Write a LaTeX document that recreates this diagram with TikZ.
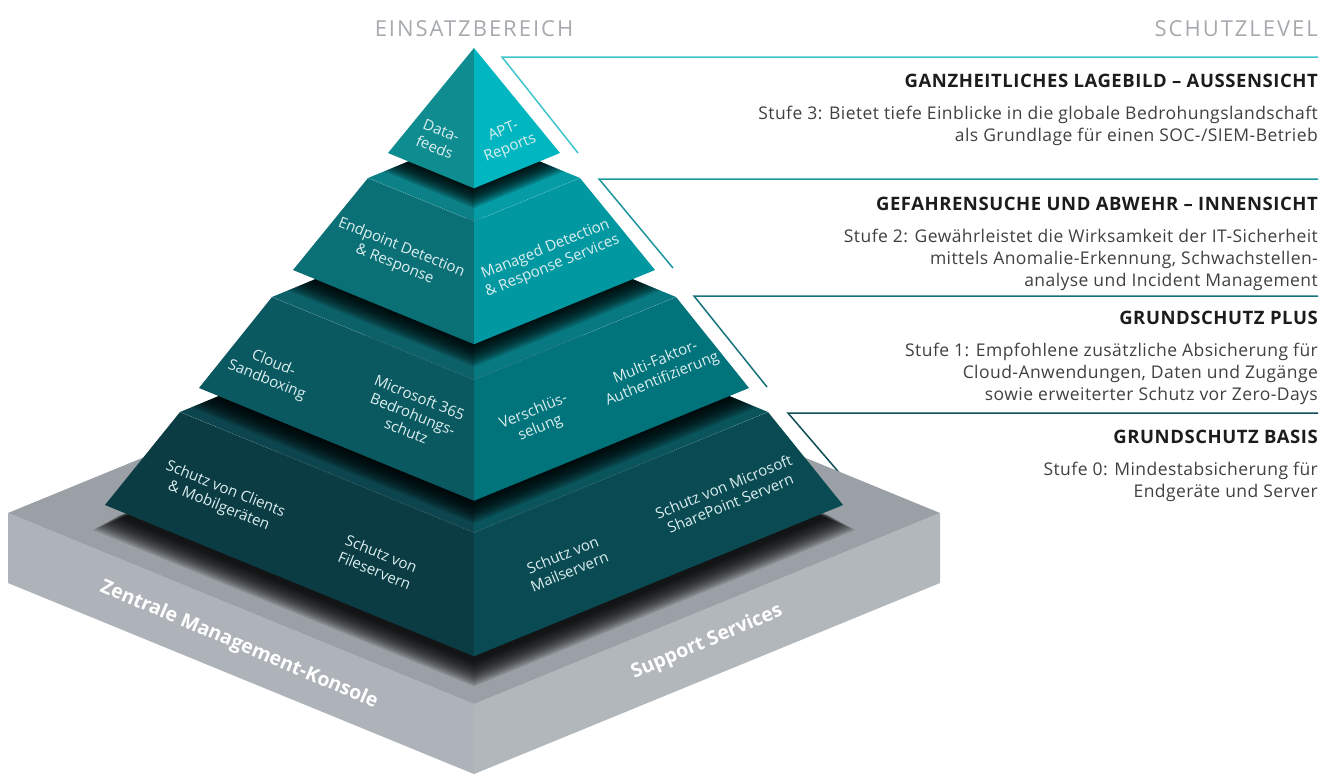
\documentclass[tikz,border=0pt]{standalone}
\usepackage{fontspec}
\setmainfont{Open Sans}
\newfontfamily\capsfont{Open Sans}[LetterSpace=9]
\newfontfamily\headfont{Open Sans}[LetterSpace=3]
\newfontfamily\descfont{Open Sans}[LetterSpace=2.5]
\usetikzlibrary{positioning}

\definecolor{capgray}{HTML}{A6AAAE}
\definecolor{headblack}{HTML}{1C1C1C}
\definecolor{bodygray}{HTML}{404040}
\definecolor{lbltxt}{HTML}{DCEEEF}
\definecolor{apexL}{HTML}{0E8C90}
\definecolor{apexR}{HTML}{00B6C1}
\definecolor{edrL}{HTML}{0B7076}
\definecolor{edrR}{HTML}{0298A2}
\definecolor{edrTL}{HTML}{0B8187}
\definecolor{edrTR}{HTML}{069CA5}
\definecolor{cldL}{HTML}{0B5960}
\definecolor{cldR}{HTML}{01737B}
\definecolor{cldTL}{HTML}{0C6168}
\definecolor{cldTR}{HTML}{087980}
\definecolor{basL}{HTML}{0B3C44}
\definecolor{basR}{HTML}{0A4A52}
\definecolor{basTL}{HTML}{0C454D}
\definecolor{basTR}{HTML}{0A545C}
\definecolor{slabtop}{HTML}{9AA0A5}
\definecolor{slabL}{HTML}{ADB3B8}
\definecolor{slabR}{HTML}{B1B7BB}
\definecolor{lineA}{HTML}{3DC4CD}
\definecolor{lineB}{HTML}{1B959E}
\definecolor{lineC}{HTML}{15717A}
\definecolor{lineD}{HTML}{0E4D56}

\tikzstyle{lbl} = [text=lbltxt, font=\fontsize{15}{18}\selectfont, align=center, inner sep=0pt]
\tikzstyle{lside} = [lbl, rotate=-22]
\tikzstyle{rside} = [lbl, rotate=22]
\tikzstyle{slabtxt} = [text=white, font=\bfseries\fontsize{19.5}{22}\selectfont, inner sep=0pt]
\tikzstyle{colhead} = [text=capgray, font=\capsfont\fontsize{22}{24}\selectfont, inner sep=0pt]
\tikzstyle{lvlhead} = [text=headblack, font=\headfont\bfseries\fontsize{18.5}{20}\selectfont, inner sep=0pt, anchor=base east]
\tikzstyle{lvldesc} = [text=bodygray, font=\descfont\fontsize{17.5}{22}\selectfont, align=right, inner sep=0pt]
\tikzstyle{leader} = [line width=1.5pt]
\tikzstyle{rim} = [white, opacity=.3, line width=.5pt, dash pattern=on 1pt off 1pt]

% corners of one level: left, front, right, back
\newcommand{\levelpts}[3]{%
  \coordinate (#1-l) at ({474-#2},#3);
  \coordinate (#1-f) at (474,{#3+0.41*#2});
  \coordinate (#1-r) at ({474+#2},#3);
  \coordinate (#1-b) at (474,{#3-0.41*#2});}
\newcommand{\tierfaces}[4]{%
  \fill[#3] (#1-l) -- (#1-f) -- (#2-f) -- (#2-l) -- cycle;
  \fill[#4] (#1-f) -- (#1-r) -- (#2-r) -- (#2-f) -- cycle;}
\newcommand{\tiertop}[3]{%
  \fill[#2] (#1-l) -- (#1-f) -- (#1-b) -- cycle;
  \fill[#3] (#1-b) -- (#1-f) -- (#1-r) -- cycle;}
% soft shadow of the level above
\newcommand{\castshade}[5]{%
  \begin{scope}
    \clip (#1-l) -- (#1-f) -- (#1-r) -- (#1-b) -- cycle;
    \foreach \i in {0,...,14}
      \fill[black, opacity=.12] ({474-(#2+\i*#4)},{#3+\i*#5}) -- (474,{#3+\i*#5+0.41*(#2+\i*#4)})
        -- ({474+#2+\i*#4},{#3+\i*#5}) -- (474,{#3+\i*#5-0.41*(#2+\i*#4)}) -- cycle;
  \end{scope}}

\begin{document}
\begin{tikzpicture}[x=1pt, y=-1pt]
\useasboundingbox (0,0) rectangle (1333,774);

\coordinate (apex) at (474,48);
\levelpts{pyr}{86}{153}
\levelpts{edrT}{106}{178}
\levelpts{edrB}{181}{270}
\levelpts{cldT}{202}{297}
\levelpts{cldB}{275}{388}
\levelpts{basT}{294}{412}
\levelpts{basB}{369}{505}
\levelpts{slabT}{466}{513}
\levelpts{slabB}{466}{583}

% leader lines
\coordinate (ld3) at (502,57);
\coordinate (ld3t) at (578,153);
\coordinate (ld3e) at (1318,57);
\coordinate (ld2) at (599,179);
\coordinate (ld2t) at (673,268);
\coordinate (ld2e) at (1318,179);
\coordinate (ld1) at (694,296);
\coordinate (ld1t) at (767,387);
\coordinate (ld1e) at (1318,296);
\coordinate (ld0) at (788,413);
\coordinate (ld0t) at (842,476);
\coordinate (ld0e) at (1318,413);
\draw[leader, lineA] (ld3t) -- (ld3) -- (ld3e);
\draw[leader, lineB] (ld2t) -- (ld2) -- (ld2e);
\draw[leader, lineC] (ld1t) -- (ld1) -- (ld1e);
\draw[leader, lineD] (ld0t) -- (ld0) -- (ld0e);

% base slab
\tierfaces{slabT}{slabB}{slabL}{slabR}
\fill[slabtop] (slabT-l) -- (slabT-f) -- (slabT-r) -- (slabT-b) -- cycle;
\castshade{slabT}{356}{516}{1.8}{1.0}

% level 0
\tierfaces{basT}{basB}{basL}{basR}
\tiertop{basT}{basTL}{basTR}
\castshade{basT}{275}{388}{1.5}{1.0}
\draw[rim] (basT-l) -- (basT-f) -- (basT-r);

% level 1
\tierfaces{cldT}{cldB}{cldL}{cldR}
\tiertop{cldT}{cldTL}{cldTR}
\castshade{cldT}{181}{270}{1.5}{1.0}
\draw[rim] (cldT-l) -- (cldT-f) -- (cldT-r);

% level 2
\tierfaces{edrT}{edrB}{edrL}{edrR}
\tiertop{edrT}{edrTL}{edrTR}
\castshade{edrT}{86}{153}{1.3}{0.9}
\draw[rim] (edrT-l) -- (edrT-f) -- (edrT-r);

% level 3
\fill[apexL] (apex) -- (pyr-l) -- (pyr-f) -- cycle;
\fill[apexR] (apex) -- (pyr-f) -- (pyr-r) -- cycle;

% labels on the faces
\node[lside] (datafeeds) at (438,139) {Data-\\feeds};
\node[rside] (aptrep) at (507,140) {APT-\\Reports};
\node[lside] (edr) at (398,256) {Endpoint Detection\\\& Response};
\node[rside] (mdr) at (549,258) {Managed Detection\\\& Response Services};
\node[lside] (sandbox) at (270,372) {Cloud-\\Sandboxing};
\node[lside] (msdef) at (413,414) {Microsoft 365\\Bedrohungs-\\schutz};
\node[rside] (crypt) at (537,420) {Verschlüs-\\selung};
\node[rside] (mfa) at (659,371) {Multi-Faktor-\\Authentifizierung};
\node[lside] (clients) at (222,498) {Schutz von Clients\\\& Mobilgeräten};
\node[lside] (files) at (378,562) {Schutz von\\Fileservern};
\node[rside] (mail) at (566,563) {Schutz von\\Mailservern};
\node[rside] (sharept) at (727,495) {Schutz von Microsoft\\SharePoint Servern};
\node[slabtxt, rotate=-23] (console) at (239,645) {Zentrale Management-Konsole};
\node[slabtxt, rotate=23] (support) at (707,642) {Support Services};

% column titles
\node[colhead, anchor=base] (einsatz) at (474,36) {EINSATZBEREICH};
\node[colhead, anchor=base east] (schutzlvl) at (1318,36) {SCHUTZLEVEL};

% protection levels
\node[lvlhead] (h3) at (1318,87) {GANZHEITLICHES LAGEBILD – AUSSENSICHT};
\node[lvldesc, below=19pt of h3.south east, anchor=north east] (d3) {Stufe 3: Bietet tiefe Einblicke in die globale Bedrohungslandschaft\\als Grundlage für einen SOC-/SIEM-Betrieb};
\node[lvlhead] (h2) at (1318,210) {GEFAHRENSUCHE UND ABWEHR – INNENSICHT};
\node[lvldesc, below=19pt of h2.south east, anchor=north east] (d2) {Stufe 2: Gewährleistet die Wirksamkeit der IT-Sicherheit\\mittels Anomalie-Erkennung, Schwachstellen-\\analyse und Incident Management};
\node[lvlhead] (h1) at (1318,324) {GRUNDSCHUTZ PLUS};
\node[lvldesc, below=19pt of h1.south east, anchor=north east] (d1) {Stufe 1: Empfohlene zusätzliche Absicherung für\\Cloud-Anwendungen, Daten und Zugänge\\sowie erweiterter Schutz vor Zero-Days};
\node[lvlhead] (h0) at (1318,443) {GRUNDSCHUTZ BASIS};
\node[lvldesc, below=19pt of h0.south east, anchor=north east] (d0) {Stufe 0: Mindestabsicherung für\\Endgeräte und Server};
\end{tikzpicture}
\end{document}
